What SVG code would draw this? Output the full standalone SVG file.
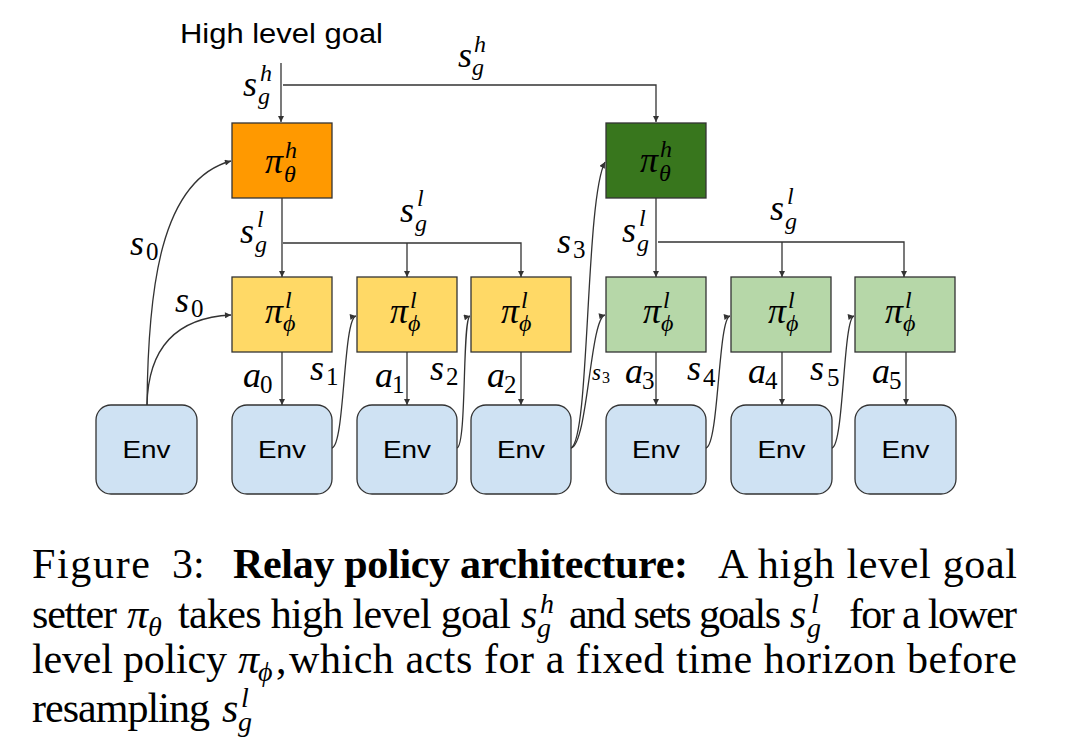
<svg xmlns="http://www.w3.org/2000/svg" width="1075" height="741" viewBox="0 0 1075 741">
<style>
.bx{stroke:#333;stroke-width:1.3}
.env{fill:#cfe2f3;stroke:#333;stroke-width:1.3}
.ln{fill:none;stroke:#333;stroke-width:1.3}
.m{font-family:"Liberation Serif","DejaVu Serif",serif;font-style:italic;font-size:36px;fill:#000}
.ms{font-family:"Liberation Serif","DejaVu Serif",serif;font-style:italic;font-size:23px;fill:#000}
.sc{font-size:24px}
.d{font-style:normal;font-size:25px}
.et{font-family:"Liberation Sans",Arial,sans-serif;font-size:24px;fill:#000;text-anchor:middle}
.cap{font-family:"Liberation Serif","Times New Roman",serif;font-size:42px;fill:#000}
.cm{font-family:"Liberation Serif","DejaVu Serif",serif;font-style:italic;font-size:42px}
.cs{font-size:28px}
</style>
<defs>
<marker id="ah" viewBox="0 0 10 10" refX="10" refY="5" markerWidth="7" markerHeight="6" markerUnits="userSpaceOnUse" orient="auto">
<path d="M0,0 L10,5 L0,10 z" fill="#333"/>
</marker>
</defs>
<rect width="1075" height="741" fill="#fff"/>

<text id="title" x="180" y="43" font-family="Liberation Sans, Arial, sans-serif" font-size="28" textLength="203" lengthAdjust="spacingAndGlyphs">High level goal</text>

<g id="connectors">
<path class="ln" d="M281,63 V122" marker-end="url(#ah)"/>
<path class="ln" d="M283,85 H656 V122" marker-end="url(#ah)"/>
<path class="ln" d="M282,198 V277" marker-end="url(#ah)"/>
<path class="ln" d="M283,243 H521 V277" marker-end="url(#ah)"/>
<path class="ln" d="M407,243 V277" marker-end="url(#ah)"/>
<path class="ln" d="M656,198 V277" marker-end="url(#ah)"/>
<path class="ln" d="M658,242 H904 V277" marker-end="url(#ah)"/>
<path class="ln" d="M782,242 V277" marker-end="url(#ah)"/>
<path class="ln" d="M282,352 V405" marker-end="url(#ah)"/>
<path class="ln" d="M407,352 V405" marker-end="url(#ah)"/>
<path class="ln" d="M521,352 V405" marker-end="url(#ah)"/>
<path class="ln" d="M656,352 V405" marker-end="url(#ah)"/>
<path class="ln" d="M782,352 V405" marker-end="url(#ah)"/>
<path class="ln" d="M906,352 V405" marker-end="url(#ah)"/>
<path class="ln" d="M147,405 C148,290 160,180 231,161" marker-end="url(#ah)"/>
<path class="ln" d="M147,405 C148,355 170,318 231,315" marker-end="url(#ah)"/>
<path class="ln" d="M332,448 C345,445 343,318 356,316" marker-end="url(#ah)"/>
<path class="ln" d="M457,448 C467,445 462,318 470,316" marker-end="url(#ah)"/>
<path class="ln" d="M571,448 C590,440 585,200 605,162" marker-end="url(#ah)"/>
<path class="ln" d="M571,448 C588,444 590,318 605,315" marker-end="url(#ah)"/>
<path class="ln" d="M706,448 C719,445 718,318 730,316" marker-end="url(#ah)"/>
<path class="ln" d="M832,448 C844,445 843,318 854,316" marker-end="url(#ah)"/>
</g>

<g id="high1"><rect class="bx" x="232" y="123" width="100" height="75" fill="#ff9900"/>
<text class="m"><tspan x="265" y="173">π</tspan><tspan class="sc" x="285" y="158">h</tspan><tspan class="sc" x="284" y="182">θ</tspan></text></g>
<g id="high2"><rect class="bx" x="606" y="123" width="100" height="75" fill="#38761d"/>
<text class="m"><tspan x="640" y="172">π</tspan><tspan class="sc" x="660" y="157">h</tspan><tspan class="sc" x="659" y="181">θ</tspan></text></g>

<g id="low1"><rect class="bx" x="232" y="277" width="100" height="75" fill="#ffd966"/>
<text class="m"><tspan x="265" y="323">π</tspan><tspan class="sc" x="285" y="308">l</tspan><tspan class="sc" x="283" y="331">ϕ</tspan></text></g>
<g id="low2"><rect class="bx" x="357" y="277" width="100" height="75" fill="#ffd966"/>
<text class="m"><tspan x="390" y="323">π</tspan><tspan class="sc" x="410" y="308">l</tspan><tspan class="sc" x="408" y="331">ϕ</tspan></text></g>
<g id="low3"><rect class="bx" x="471" y="277" width="100" height="75" fill="#ffd966"/>
<text class="m"><tspan x="501" y="323">π</tspan><tspan class="sc" x="521" y="308">l</tspan><tspan class="sc" x="519" y="331">ϕ</tspan></text></g>
<g id="low4"><rect class="bx" x="606" y="277" width="100" height="75" fill="#b6d7a8"/>
<text class="m"><tspan x="643" y="323">π</tspan><tspan class="sc" x="663" y="308">l</tspan><tspan class="sc" x="661" y="331">ϕ</tspan></text></g>
<g id="low5"><rect class="bx" x="731" y="277" width="100" height="75" fill="#b6d7a8"/>
<text class="m"><tspan x="768" y="323">π</tspan><tspan class="sc" x="788" y="308">l</tspan><tspan class="sc" x="786" y="331">ϕ</tspan></text></g>
<g id="low6"><rect class="bx" x="855" y="277" width="100" height="75" fill="#b6d7a8"/>
<text class="m"><tspan x="885" y="323">π</tspan><tspan class="sc" x="905" y="308">l</tspan><tspan class="sc" x="903" y="331">ϕ</tspan></text></g>

<g id="env0"><rect class="env" x="96" y="405" width="101" height="89" rx="15"/><text class="et" x="146.5" y="458" textLength="48" lengthAdjust="spacingAndGlyphs">Env</text></g>
<g id="env1"><rect class="env" x="232" y="405" width="100" height="89" rx="15"/><text class="et" x="282" y="458" textLength="48" lengthAdjust="spacingAndGlyphs">Env</text></g>
<g id="env2"><rect class="env" x="357" y="405" width="100" height="89" rx="15"/><text class="et" x="407" y="458" textLength="48" lengthAdjust="spacingAndGlyphs">Env</text></g>
<g id="env3"><rect class="env" x="471" y="405" width="100" height="89" rx="15"/><text class="et" x="521" y="458" textLength="48" lengthAdjust="spacingAndGlyphs">Env</text></g>
<g id="env4"><rect class="env" x="606" y="405" width="100" height="89" rx="15"/><text class="et" x="656" y="458" textLength="48" lengthAdjust="spacingAndGlyphs">Env</text></g>
<g id="env5"><rect class="env" x="731" y="405" width="101" height="89" rx="15"/><text class="et" x="781.5" y="458" textLength="48" lengthAdjust="spacingAndGlyphs">Env</text></g>
<g id="env6"><rect class="env" x="855" y="405" width="101" height="89" rx="15"/><text class="et" x="905.5" y="458" textLength="48" lengthAdjust="spacingAndGlyphs">Env</text></g>

<g id="labels">
<text class="m"><tspan x="243" y="96">s</tspan><tspan class="sc" x="260" y="81">h</tspan><tspan class="sc" x="258" y="104">g</tspan></text>
<text class="m"><tspan x="458" y="67">s</tspan><tspan class="sc" x="474" y="52">h</tspan><tspan class="sc" x="472" y="75">g</tspan></text>
<text class="m"><tspan x="240" y="243">s</tspan><tspan class="sc" x="257" y="227">l</tspan><tspan class="sc" x="255" y="252">g</tspan></text>
<text class="m"><tspan x="400" y="222">s</tspan><tspan class="sc" x="417" y="206">l</tspan><tspan class="sc" x="415" y="231">g</tspan></text>
<text class="m"><tspan x="622" y="242">s</tspan><tspan class="sc" x="639" y="226">l</tspan><tspan class="sc" x="637" y="251">g</tspan></text>
<text class="m"><tspan x="770" y="220">s</tspan><tspan class="sc" x="787" y="204">l</tspan><tspan class="sc" x="785" y="229">g</tspan></text>
<text class="m"><tspan x="130" y="255">s</tspan><tspan class="d" x="146" y="260">0</tspan></text>
<text class="m"><tspan x="175" y="312">s</tspan><tspan class="d" x="191" y="317">0</tspan></text>
<text class="m"><tspan x="243" y="387">a</tspan><tspan class="d" x="260" y="393">0</tspan></text>
<text class="m"><tspan x="310" y="380">s</tspan><tspan class="d" x="326" y="385">1</tspan></text>
<text class="m"><tspan x="375" y="387">a</tspan><tspan class="d" x="392" y="393">1</tspan></text>
<text class="m"><tspan x="430" y="380">s</tspan><tspan class="d" x="446" y="385">2</tspan></text>
<text class="m"><tspan x="487" y="387">a</tspan><tspan class="d" x="504" y="393">2</tspan></text>
<text class="m"><tspan x="557" y="253">s</tspan><tspan class="d" x="573" y="258">3</tspan></text>
<text class="ms"><tspan x="592" y="380">s</tspan><tspan style="font-style:normal;font-size:16px" x="602" y="383">3</tspan></text>
<text class="m"><tspan x="625" y="383">a</tspan><tspan class="d" x="642" y="389">3</tspan></text>
<text class="m"><tspan x="687" y="380">s</tspan><tspan class="d" x="703" y="386">4</tspan></text>
<text class="m"><tspan x="748" y="383">a</tspan><tspan class="d" x="765" y="389">4</tspan></text>
<text class="m"><tspan x="810" y="380">s</tspan><tspan class="d" x="827" y="386">5</tspan></text>
<text class="m"><tspan x="872" y="383">a</tspan><tspan class="d" x="889" y="389">5</tspan></text>
</g>

<g id="caption" class="cap">
<text x="32" y="578" textLength="118" lengthAdjust="spacing">Figure</text>
<text x="172" y="578">3:</text>
<text x="233" y="578" font-weight="bold" textLength="455" lengthAdjust="spacing">Relay policy architecture:</text>
<text x="718" y="578" textLength="299" lengthAdjust="spacing">A high level goal</text>

<text x="32" y="628" textLength="85" lengthAdjust="spacing">setter</text>
<text class="cm"><tspan x="127" y="628">π</tspan><tspan class="cs" x="148" y="636">θ</tspan></text>
<text x="178" y="628" textLength="333" lengthAdjust="spacing">takes high level goal</text>
<text class="cm"><tspan x="521" y="628">s</tspan><tspan class="cs" x="540" y="613">h</tspan><tspan class="cs" x="537" y="637">g</tspan></text>
<text x="569" y="628" textLength="212" lengthAdjust="spacing">and sets goals</text>
<text class="cm"><tspan x="790" y="628">s</tspan><tspan class="cs" x="811" y="613">l</tspan><tspan class="cs" x="807" y="637">g</tspan></text>
<text x="849" y="628" textLength="168" lengthAdjust="spacing">for a lower</text>

<text x="32" y="673" textLength="195" lengthAdjust="spacing">level policy</text>
<text class="cm"><tspan x="238" y="673">π</tspan><tspan class="cs" x="258" y="681">ϕ</tspan></text>
<text x="276" y="673">,</text>
<text x="289" y="673" textLength="728" lengthAdjust="spacing">which acts for a fixed time horizon before</text>

<text x="32" y="722" textLength="178" lengthAdjust="spacing">resampling</text>
<text class="cm"><tspan x="222" y="722">s</tspan><tspan class="cs" x="241" y="707">l</tspan><tspan class="cs" x="238" y="731">g</tspan></text>
</g>
</svg>
